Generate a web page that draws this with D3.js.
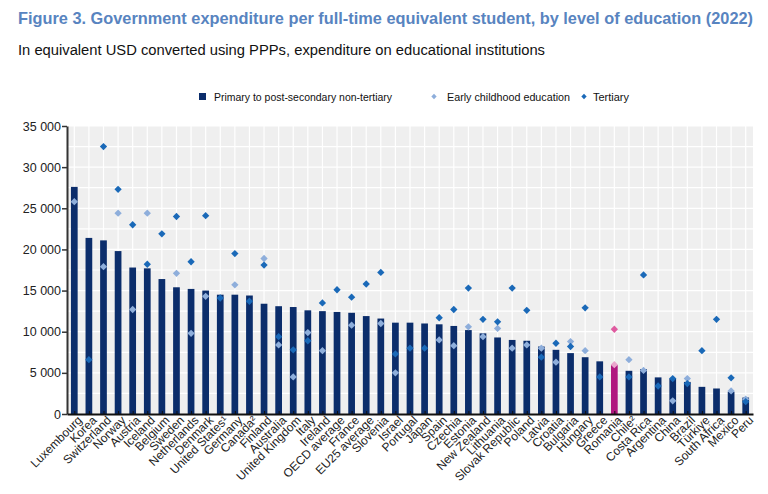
<!DOCTYPE html>
<html>
<head>
<meta charset="utf-8">
<script src="https://cdn.jsdelivr.net/npm/d3@7"></script>
<style>
  body { margin: 0; background: #fff; }
  svg { display: block; font-family: "Liberation Sans", Arial, sans-serif; }
</style>
</head>
<body>
<svg id="chart" width="768" height="494"></svg>
<script>
const countries = ["Luxembourg", "Korea", "Switzerland", "Norway", "Austria", "Iceland", "Belgium", "Sweden",
    "Netherlands", "Denmark", "United States\u00b9", "Germany", "Canada\u00b2", "Finland", "Australia",
    "United Kingdom", "Italy", "Ireland", "OECD average", "France", "EU25 average", "Slovenia", "Israel",
    "Portugal", "Japan", "Spain", "Czechia", "Estonia", "New Zealand", "Lithuania", "Slovak Republic",
    "Poland", "Latvia", "Croatia", "Bulgaria", "Hungary", "Greece", "Romania", "Chile\u00b2", "Costa Rica",
    "Argentina", "China", "Brazil", "Türkiye", "South Africa", "Mexico", "Peru"];

const primary = [27600, 21400, 21100, 19800, 17800, 17700, 16400, 15400, 15200, 15000, 14500, 14500, 14400,
    13400, 13100, 13000, 12600, 12500, 12400, 12300, 11900, 11600, 11100, 11100, 11000, 10900, 10700, 10200,
    9800, 9300, 9000, 8900, 8200, 7800, 7400, 6900, 6400, 5950, 5250, 5450, 4450, 4300, 3900, 3300, 3100,
    2700, 2000];

const earlyChildhood = [25800, null, 17900, 24400, 12700, 24400, null, 17100, 9800, 14300, null, 15700, null,
    18900, 8400, 4500, 9900, 7700, null, 10800, null, 11000, 5000, null, null, 9000, 8300, 10600,
    9400, 10400, 8000, 8400, 8000, 6300, 8800, 7700, null, 6000, 6600, 5300, null, 1600, 4300, null, null,
    2800, 1800];

const tertiary = [null, 6600, 32500, 27300, 23000, 18200, 21900, 24000, 18500, 24100, 14100, 19500, 13700,
    18100, 9400, 7800, 8900, 13500, 15100, 14200, 15800, 17200, 7300, 8000, 8000, 11700, 12700, 15300,
    11500, 11200, 15300, 12600, 6900, 8600, 8200, 12900, 4500, 10300, 4500, 16900, 3400, 4300, 3700, 7700, 11500,
    4400, 1500];

const yTicks = [0, 5000, 10000, 15000, 20000, 25000, 30000, 35000];
const highlight = "Romania";

const legendItems = ["Primary to post-secondary non-tertiary", "Early childhood education", "Tertiary"];

const colors = {
    bar: "#0b2d6b", ece: "#8eaedb", ter: "#1a69b8",
    barHi: "#b0177f", eceHi: "#eaa6cd", terHi: "#df5ba0"
};

const svg = d3.select("#chart");
const margin = {top: 126, right: 15, bottom: 80, left: 67};
const width = 768 - margin.left - margin.right;
const height = 494 - margin.top - margin.bottom;

// fit a text element to a width, the original uses a narrow face
function fit(sel, w) {
    sel.attr("textLength", w).attr("lengthAdjust", "spacingAndGlyphs");
}

svg.append("text").attr("x", 18).attr("y", 24)
    .attr("font-size", 16.5).attr("font-weight", "bold").attr("fill", "#5884c0")
    .text("Figure 3. Government expenditure per full-time equivalent student, by level of education (2022)")
    .call(fit, 735);

svg.append("text").attr("x", 18).attr("y", 55)
    .attr("font-size", 15.5).attr("fill", "#111")
    .text("In equivalent USD converted using PPPs, expenditure on educational institutions")
    .call(fit, 527);

const diamond = d3.symbol().type(d3.symbolDiamond2);

// legend
const lg = svg.append("g").attr("font-size", 11.5).attr("fill", "#111");
lg.append("rect").attr("x", 199).attr("y", 93).attr("width", 7).attr("height", 7).attr("fill", colors.bar);
lg.append("text").attr("x", 214).attr("y", 101).text(legendItems[0]).call(fit, 178);
lg.append("path").attr("d", diamond.size(18)()).attr("transform", "translate(434,96.5)").attr("fill", colors.ece);
lg.append("text").attr("x", 447).attr("y", 101).text(legendItems[1]).call(fit, 123);
lg.append("path").attr("d", diamond.size(18)()).attr("transform", "translate(584,96.5)").attr("fill", colors.ter);
lg.append("text").attr("x", 593).attr("y", 101).text(legendItems[2]).call(fit, 36);

const g = svg.append("g").attr("transform", "translate(" + margin.left + "," + margin.top + ")");

const x = d3.scalePoint().domain(countries).range([0, width]).padding(0.5);
const step = x.step();
const barW = step * 0.46;
const y = d3.scaleLinear().domain([0, 35000]).range([height, 0]);

g.append("rect").attr("width", width).attr("height", height).attr("fill", "#efefef");

g.append("g").selectAll("line")
    .data(d3.range(2500, 35001, 2500))
    .enter().append("line")
    .attr("x1", 0).attr("x2", width)
    .attr("y1", (d) => y(d)).attr("y2", (d) => y(d))
    .attr("stroke", "#fff").attr("stroke-width", 1.2);

g.append("g").selectAll("line")
    .data(countries)
    .enter().append("line")
    .attr("x1", (d) => x(d)).attr("x2", (d) => x(d))
    .attr("y1", 0).attr("y2", height)
    .attr("stroke", "#fff").attr("stroke-width", 1.2);

g.append("g").selectAll("rect")
    .data(countries)
    .enter().append("rect")
    .attr("x", (d) => x(d) - barW / 2)
    .attr("width", barW)
    .attr("y", (d, i) => y(primary[i]))
    .attr("height", (d, i) => height - y(primary[i]))
    .attr("fill", (d) => d === highlight ? colors.barHi : colors.bar);

function markers(values, col, colHi) {
    g.append("g").selectAll("path")
        .data(countries.map((c, i) => ({c: c, v: values[i]})).filter((d) => d.v != null))
        .enter().append("path")
        .attr("d", diamond.size(34)())
        .attr("transform", (d) => "translate(" + x(d.c) + "," + y(d.v) + ")")
        .attr("fill", (d) => d.c === highlight ? colHi : col);
}
markers(earlyChildhood, colors.ece, colors.eceHi);
markers(tertiary, colors.ter, colors.terHi);

const yAxis = d3.axisLeft(y).tickValues(yTicks).tickSize(5).tickSizeOuter(0)
    .tickFormat((d) => d3.format(",")(d).replace(",", " "));
g.append("g")
    .attr("class", "axis axis--y")
    .call(yAxis)
    .call((a) => a.select(".domain").attr("stroke", "#333").attr("stroke-width", 2))
    .call((a) => a.selectAll(".tick line").attr("stroke", "#333").attr("stroke-width", 1.5))
    .call((a) => a.selectAll(".tick text").attr("font-size", 12.5).attr("fill", "#222")
        .attr("font-family", "Liberation Sans, Arial, sans-serif").attr("x", -6));

const xAxis = d3.axisBottom(x).tickSize(3).tickSizeOuter(0);
const xa = g.append("g")
    .attr("class", "axis axis--x")
    .attr("transform", "translate(0," + height + ")")
    .call(xAxis);
xa.select(".domain").attr("stroke", "#111").attr("stroke-width", 2);
xa.selectAll(".tick line").attr("stroke", "#111").attr("y1", -3).attr("y2", 0);
xa.selectAll(".tick text")
    .attr("font-size", 12).attr("fill", "#222")
    .attr("font-family", "Liberation Sans, Arial, sans-serif")
    .attr("text-anchor", "end")
    .attr("transform", "translate(5,4) rotate(-45)")
    .attr("x", 0).attr("y", 0).attr("dy", "0.35em");
</script>
</body>
</html>
